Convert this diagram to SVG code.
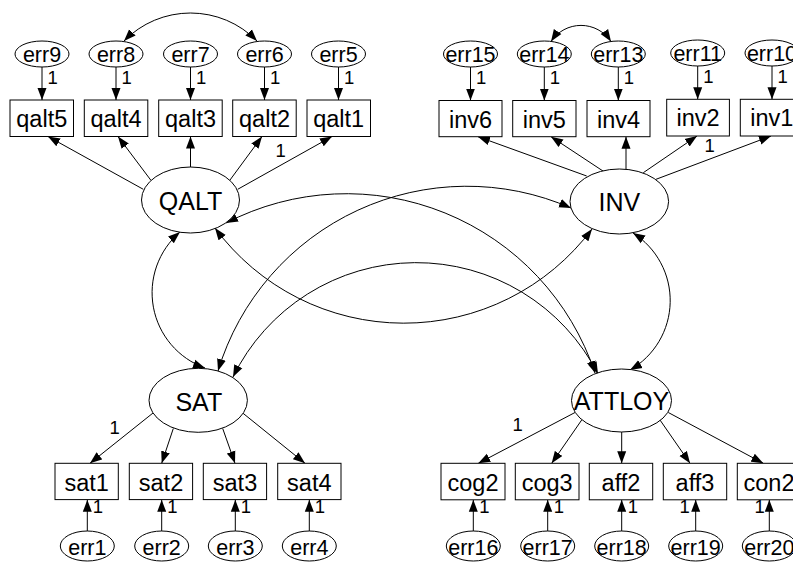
<svg xmlns="http://www.w3.org/2000/svg" width="793" height="562" viewBox="0 0 793 562">
<defs>
<marker id="a" markerUnits="userSpaceOnUse" markerWidth="12" markerHeight="10" viewBox="0 0 12 10" refX="12" refY="5" orient="auto-start-reverse"><path d="M0,0.5 L12,5 L0,9.5 z" fill="#000"/></marker>
</defs>
<style>
text{font-family:"Liberation Sans",Arial,sans-serif;fill:#000;text-anchor:middle}
.box{fill:#fff;stroke:#000;stroke-width:1}
.ell{fill:#fff;stroke:#000;stroke-width:1}
.bl{font-size:23.5px}
.el{font-size:21.5px}
.lt{font-size:25px}
.one{font-size:18.5px;text-anchor:start}
.c{fill:none;stroke:#000;stroke-width:1;marker-end:url(#a)}
.cv{fill:none;stroke:#000;stroke-width:1;marker-start:url(#a);marker-end:url(#a)}
</style>
<rect width="793" height="562" fill="#fff"/>
<g id="connectors">
<line class="c" x1="42" y1="67" x2="42" y2="100"/>
<line class="c" x1="116" y1="67" x2="116" y2="100"/>
<line class="c" x1="190.5" y1="67" x2="190.5" y2="100"/>
<line class="c" x1="264.5" y1="67" x2="264.5" y2="100"/>
<line class="c" x1="338.5" y1="67" x2="338.5" y2="100"/>
<line class="c" x1="470.5" y1="67" x2="470.5" y2="100.5"/>
<line class="c" x1="544.3" y1="67" x2="544.3" y2="100.5"/>
<line class="c" x1="618.3" y1="67" x2="618.3" y2="100.5"/>
<line class="c" x1="697.7" y1="66" x2="697.7" y2="99.3"/>
<line class="c" x1="772" y1="66" x2="772" y2="99.3"/>
<line class="c" x1="143.3" y1="189.3" x2="48" y2="136.5"/>
<line class="c" x1="150.7" y1="180" x2="118" y2="136.5"/>
<line class="c" x1="190.5" y1="167" x2="190.5" y2="136.5"/>
<line class="c" x1="230" y1="180" x2="262" y2="136.5"/>
<line class="c" x1="237.7" y1="189.3" x2="332" y2="136.5"/>
<line class="c" x1="586.7" y1="176" x2="478" y2="136.7"/>
<line class="c" x1="604" y1="171.7" x2="551" y2="136.7"/>
<line class="c" x1="626" y1="169.3" x2="626" y2="136.7"/>
<line class="c" x1="643.3" y1="172.7" x2="697" y2="136"/>
<line class="c" x1="656" y1="179.3" x2="771" y2="136"/>
<line class="c" x1="153" y1="413" x2="90" y2="463.3"/>
<line class="c" x1="173.3" y1="428.5" x2="161.7" y2="463.3"/>
<line class="c" x1="222.7" y1="428.5" x2="235" y2="463.3"/>
<line class="c" x1="242.7" y1="413" x2="305" y2="463.3"/>
<line class="c" x1="575" y1="412.5" x2="478.3" y2="463.3"/>
<line class="c" x1="581.7" y1="420" x2="551.7" y2="463.3"/>
<line class="c" x1="621.7" y1="432" x2="621.7" y2="463.3"/>
<line class="c" x1="660" y1="420" x2="690" y2="463.3"/>
<line class="c" x1="668.3" y1="412.5" x2="763.3" y2="463.3"/>
<line class="c" x1="87.3" y1="531" x2="87.3" y2="499.8"/>
<line class="c" x1="161.7" y1="531" x2="161.7" y2="499.8"/>
<line class="c" x1="235.3" y1="531" x2="235.3" y2="499.8"/>
<line class="c" x1="309.3" y1="531" x2="309.3" y2="499.8"/>
<line class="c" x1="473.3" y1="531" x2="473.3" y2="499.8"/>
<line class="c" x1="547.7" y1="531" x2="547.7" y2="499.8"/>
<line class="c" x1="621.7" y1="531" x2="621.7" y2="499.8"/>
<line class="c" x1="695.7" y1="531" x2="695.7" y2="499.8"/>
<line class="c" x1="769.3" y1="531" x2="769.3" y2="499.8"/>
<path class="cv" d="M124,41 A93,93 0 0 1 257,41"/>
<path class="cv" d="M551,41.5 A36,36 0 0 1 611,41.5"/>
<path class="cv" d="M226,223 A262,262 0 0 1 595,373"/>
<path class="cv" d="M218,371 A260,260 0 0 1 571,208"/>
<path class="cv" d="M215,228 A235,235 0 0 0 592,229"/>
<path class="cv" d="M233,377 A204,204 0 0 1 598,374"/>
<path class="cv" d="M180,232 A80,80 0 0 0 205,368"/>
<path class="cv" d="M633,233 A80,80 0 0 1 630,370"/>
<text class="one" x="47.5" y="84">1</text>
<text class="one" x="121.5" y="84">1</text>
<text class="one" x="196" y="84">1</text>
<text class="one" x="270" y="84">1</text>
<text class="one" x="344" y="84">1</text>
<text class="one" x="476" y="84">1</text>
<text class="one" x="549.8" y="84">1</text>
<text class="one" x="623.8" y="84">1</text>
<text class="one" x="703.2" y="83">1</text>
<text class="one" x="777.5" y="83">1</text>
<text class="one" x="275.5" y="157">1</text>
<text class="one" x="704.5" y="152">1</text>
<text class="one" x="109.5" y="433.5">1</text>
<text class="one" x="512.5" y="431">1</text>
<text class="one" x="92.8" y="512.5">1</text>
<text class="one" x="167.2" y="512.5">1</text>
<text class="one" x="240.8" y="512.5">1</text>
<text class="one" x="314.8" y="512.5">1</text>
<text class="one" x="479.3" y="512.5">1</text>
<text class="one" x="553.7" y="512.5">1</text>
<text class="one" x="627.7" y="512.5">1</text>
<text class="one" x="679.5" y="512.5">1</text>
<text class="one" x="754.5" y="512.5">1</text>
</g>
<g id="err9"><ellipse class="ell" cx="42" cy="54" rx="27" ry="13"/><text class="el" x="42" y="61.5">err9</text></g>
<g id="err8"><ellipse class="ell" cx="116" cy="54" rx="27" ry="13"/><text class="el" x="116" y="61.5">err8</text></g>
<g id="err7"><ellipse class="ell" cx="190.5" cy="54" rx="27" ry="13"/><text class="el" x="190.5" y="61.5">err7</text></g>
<g id="err6"><ellipse class="ell" cx="264.5" cy="54" rx="27" ry="13"/><text class="el" x="264.5" y="61.5">err6</text></g>
<g id="err5"><ellipse class="ell" cx="338.5" cy="54" rx="27" ry="13"/><text class="el" x="338.5" y="61.5">err5</text></g>
<g id="err15"><ellipse class="ell" cx="470.5" cy="54" rx="27" ry="13"/><text class="el" x="470.5" y="61.5">err15</text></g>
<g id="err14"><ellipse class="ell" cx="544.3" cy="54" rx="27" ry="13"/><text class="el" x="544.3" y="61.5">err14</text></g>
<g id="err13"><ellipse class="ell" cx="618.3" cy="54" rx="27" ry="13"/><text class="el" x="618.3" y="61.5">err13</text></g>
<g id="err11"><ellipse class="ell" cx="697.7" cy="53" rx="27" ry="13"/><text class="el" x="697.7" y="60.5">err11</text></g>
<g id="err10"><ellipse class="ell" cx="772" cy="53" rx="27" ry="13"/><text class="el" x="772" y="60.5">err10</text></g>
<g id="qalt5"><rect class="box" x="10" y="100" width="63.5" height="36.5"/><text class="bl" x="41.75" y="127">qalt5</text></g>
<g id="qalt4"><rect class="box" x="84.3" y="100" width="63.5" height="36.5"/><text class="bl" x="116" y="127">qalt4</text></g>
<g id="qalt3"><rect class="box" x="158.7" y="100" width="63.5" height="36.5"/><text class="bl" x="190.5" y="127">qalt3</text></g>
<g id="qalt2"><rect class="box" x="232.7" y="100" width="63.5" height="36.5"/><text class="bl" x="264.5" y="127">qalt2</text></g>
<g id="qalt1"><rect class="box" x="307" y="100" width="63.5" height="36.5"/><text class="bl" x="338.7" y="127">qalt1</text></g>
<g id="inv6"><rect class="box" x="439" y="100.5" width="63" height="36.2"/><text class="bl" x="470.5" y="127.5">inv6</text></g>
<g id="inv5"><rect class="box" x="512.7" y="100.5" width="63.3" height="36.2"/><text class="bl" x="544.3" y="127.5">inv5</text></g>
<g id="inv4"><rect class="box" x="587" y="100.5" width="63" height="36.2"/><text class="bl" x="618.5" y="127.5">inv4</text></g>
<g id="inv2"><rect class="box" x="666.7" y="99.3" width="62.7" height="36.7"/><text class="bl" x="698" y="126">inv2</text></g>
<g id="inv1"><rect class="box" x="740.3" y="99.3" width="63" height="36.7"/><text class="bl" x="771.8" y="126">inv1</text></g>
<g id="QALT"><ellipse class="ell" cx="190.5" cy="200" rx="49" ry="33"/><text class="lt" x="190.5" y="210">QALT</text></g>
<g id="INV"><ellipse class="ell" cx="619.3" cy="201.5" rx="49.3" ry="32.5"/><text class="lt" x="619.3" y="211">INV</text></g>
<g id="SAT"><ellipse class="ell" cx="198.2" cy="400.3" rx="49.2" ry="32"/><text class="lt" x="198.8" y="410.5">SAT</text></g>
<g id="ATTLOY"><ellipse class="ell" cx="621.5" cy="400.5" rx="50" ry="31.5"/><text class="lt" x="621.5" y="410">ATTLOY</text></g>
<g id="sat1"><rect class="box" x="55" y="463.3" width="63.3" height="36.3"/><text class="bl" x="86.7" y="490.5">sat1</text></g>
<g id="sat2"><rect class="box" x="129.3" y="463.3" width="63.3" height="36.3"/><text class="bl" x="161" y="490.5">sat2</text></g>
<g id="sat3"><rect class="box" x="203.3" y="463.3" width="63.3" height="36.3"/><text class="bl" x="235" y="490.5">sat3</text></g>
<g id="sat4"><rect class="box" x="277.7" y="463.3" width="63.3" height="36.3"/><text class="bl" x="309.3" y="490.5">sat4</text></g>
<g id="cog2"><rect class="box" x="441" y="463.3" width="64" height="36.5"/><text class="bl" x="473" y="490.5">cog2</text></g>
<g id="cog3"><rect class="box" x="515.3" y="463.3" width="63.7" height="36.5"/><text class="bl" x="547.2" y="490.5">cog3</text></g>
<g id="aff2"><rect class="box" x="589.3" y="463.3" width="63.4" height="36.5"/><text class="bl" x="621" y="490.5">aff2</text></g>
<g id="aff3"><rect class="box" x="663.3" y="463.3" width="63.4" height="36.5"/><text class="bl" x="695" y="490.5">aff3</text></g>
<g id="con2"><rect class="box" x="737.3" y="463.3" width="63.4" height="36.5"/><text class="bl" x="769" y="490.5">con2</text></g>
<g id="err1"><ellipse class="ell" cx="87.3" cy="546" rx="27" ry="15"/><text class="el" x="87.3" y="555">err1</text></g>
<g id="err2"><ellipse class="ell" cx="161.7" cy="546" rx="27" ry="15"/><text class="el" x="161.7" y="555">err2</text></g>
<g id="err3"><ellipse class="ell" cx="235.3" cy="546" rx="27" ry="15"/><text class="el" x="235.3" y="555">err3</text></g>
<g id="err4"><ellipse class="ell" cx="309.3" cy="546" rx="27" ry="15"/><text class="el" x="309.3" y="555">err4</text></g>
<g id="err16"><ellipse class="ell" cx="473.3" cy="546" rx="27" ry="15"/><text class="el" x="473.3" y="555">err16</text></g>
<g id="err17"><ellipse class="ell" cx="547.7" cy="546" rx="27" ry="15"/><text class="el" x="547.7" y="555">err17</text></g>
<g id="err18"><ellipse class="ell" cx="621.7" cy="546" rx="27" ry="15"/><text class="el" x="621.7" y="555">err18</text></g>
<g id="err19"><ellipse class="ell" cx="695.7" cy="546" rx="27" ry="15"/><text class="el" x="695.7" y="555">err19</text></g>
<g id="err20"><ellipse class="ell" cx="769.3" cy="546" rx="27" ry="15"/><text class="el" x="769.3" y="555">err20</text></g>
</svg>
